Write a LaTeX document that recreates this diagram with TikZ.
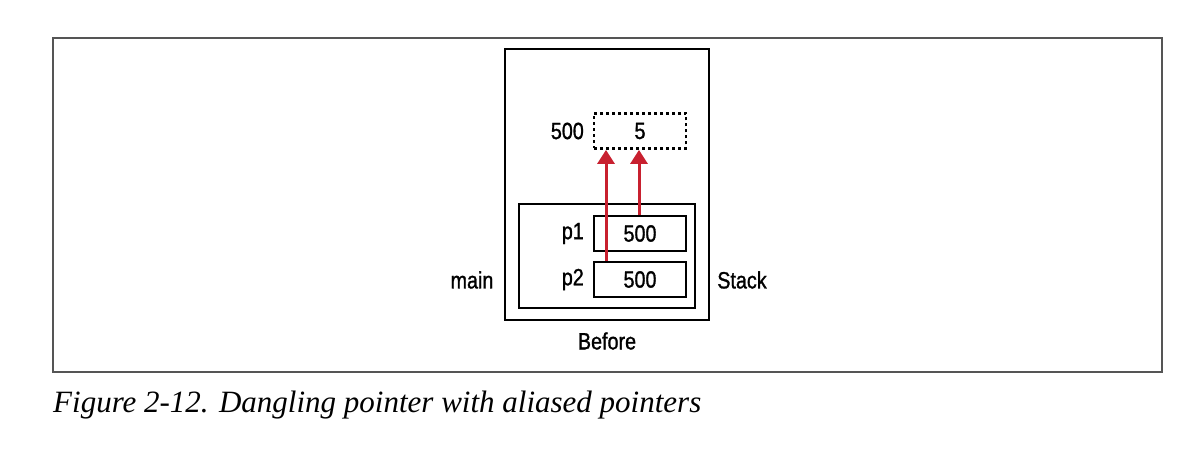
\documentclass[tikz,border=0pt]{standalone}
\usepackage{fontspec}
\setmainfont{Liberation Serif}
\newfontfamily\condfont[FakeStretch=0.84,FakeBold=1.2]{Liberation Sans}
\usetikzlibrary{arrows.meta}
\definecolor{ptrred}{HTML}{C8202F}
\definecolor{framegray}{HTML}{555555}
\tikzset{
  box/.style={draw=black, line width=2.8pt},
  cell/.style={draw=black, line width=2.8pt, minimum width=92pt, minimum height=35pt, inner sep=0pt, font=\condfont\fontsize{23.5}{23.5}\selectfont},
  lbl/.style={inner sep=0pt, font=\condfont\fontsize{23.5}{23.5}\selectfont},
  ptr/.style={draw=ptrred, line width=3pt, -{Triangle[width=17pt,length=14pt]}},
}
\begin{document}
\begin{tikzpicture}[x=1pt,y=-1pt]
\useasboundingbox (0,0) rectangle (1192,454);
\draw[framegray, line width=1.4pt] (53,38) rectangle (1162,372);
% outer stack box
\node[box, minimum width=204pt, minimum height=271pt, inner sep=0pt] (stack) at (607,184.5) {};
% heap cell (dotted)
\node[cell, draw=black, dash pattern=on 3pt off 3pt] (heap) at (640,131) {5};
\node[lbl, anchor=east] (heapaddr) at (584,131) {500};
% main frame
\node[box, minimum width=176pt, minimum height=104pt, inner sep=0pt] (main) at (607,256) {};
\node[cell] (p1) at (640,233.5) {500};
\node[cell] (p2) at (640,279.5) {500};
\node[lbl, anchor=east] (p1l) at (584,233.5) {p1};
\node[lbl, anchor=east] (p2l) at (584,279.5) {p2};
\node[lbl] (mainl) at (472,280) {main};
\node[lbl] (stackl) at (742,280) {Stack};
\node[lbl] (before) at (607,341) {Before};
% pointers
\draw[ptr] (p2.north -| 606,0) -- (heap.south -| 606,0);
\draw[ptr] (p1.north -| 639,0) -- (heap.south -| 639,0);
% caption
\node[anchor=base west, inner sep=0pt, font=\fontsize{31}{31}\selectfont\itshape] (cap) at (53,413) {Figure 2-12. Dangling pointer with aliased pointers};
\end{tikzpicture}
\end{document}
